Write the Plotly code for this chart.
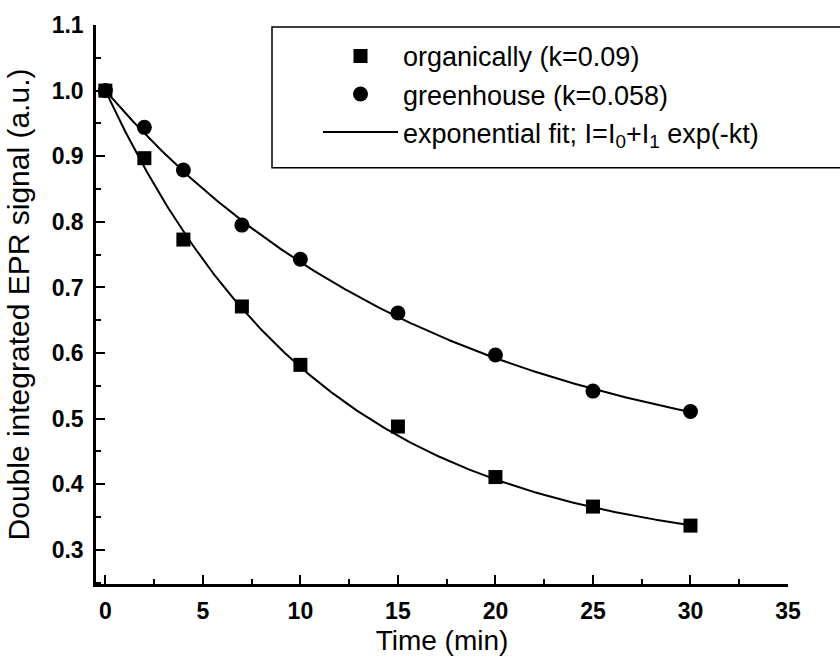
import numpy as np
import plotly.graph_objects as go

# ---- data ----
time_min = [0, 2, 4, 7, 10, 15, 20, 25, 30]
organically = [1.0, 0.897, 0.773, 0.671, 0.582, 0.488, 0.411, 0.366, 0.337]
greenhouse = [1.0, 0.944, 0.879, 0.795, 0.743, 0.661, 0.597, 0.542, 0.511]

# exponential fit parameters I = I0 + I1*exp(-k t)
k_org, I0_org, I1_org = 0.09, 0.290, 0.710
k_gh, I0_gh, I1_gh = 0.058, 0.406, 0.594

x_ticks = [0, 5, 10, 15, 20, 25, 30, 35]
y_ticks = [0.3, 0.4, 0.5, 0.6, 0.7, 0.8, 0.9, 1.0, 1.1]

t_fit = np.linspace(0, 30, 301)
fit_org = I0_org + I1_org * np.exp(-k_org * t_fit)
fit_gh = I0_gh + I1_gh * np.exp(-k_gh * t_fit)

FONT = "Liberation Sans, Arial, sans-serif"

fig = go.Figure()
fig.add_trace(go.Scatter(x=t_fit, y=fit_org, mode="lines",
                         line=dict(color="black", width=2),
                         name="exponential fit; I=I<sub>0</sub>+I<sub>1</sub> exp(-kt)",
                         legendrank=3, showlegend=True))
fig.add_trace(go.Scatter(x=t_fit, y=fit_gh, mode="lines",
                         line=dict(color="black", width=2),
                         showlegend=False))
fig.add_trace(go.Scatter(x=time_min, y=organically, mode="markers",
                         marker=dict(symbol="square", size=14, color="black"),
                         name="organically (k=0.09)", legendrank=1))
fig.add_trace(go.Scatter(x=time_min, y=greenhouse, mode="markers",
                         marker=dict(symbol="circle", size=15, color="black"),
                         name="greenhouse (k=0.058)", legendrank=2))

# plot area pixel geometry
L, R, T, B = 96, 52, 21, 71
W, H = 840, 664
pw, ph = W - L - R, H - T - B

def px_x(p):
    return (p - L) / pw

def px_y(p):
    return (H - B - p) / ph

# legend frame (extends beyond the right edge as in reference)
fig.add_shape(type="rect", xref="paper", yref="paper",
              x0=px_x(272), x1=px_x(860), y0=px_y(167), y1=px_y(23),
              line=dict(color="black", width=1.5), fillcolor="rgba(0,0,0,0)")

fig.update_layout(
    width=W, height=H,
    margin=dict(l=L, r=R, t=T, b=B),
    paper_bgcolor="white", plot_bgcolor="white",
    font=dict(family=FONT, color="black", size=22),
    showlegend=True,
    legend=dict(x=px_x(318), y=px_y(28), xanchor="left", yanchor="top",
                bgcolor="rgba(0,0,0,0)", borderwidth=0,
                font=dict(family=FONT, size=27, color="black"),
                itemwidth=75, traceorder="normal", tracegroupgap=0),
    xaxis=dict(range=[-0.48, 35], tickvals=x_ticks, ticktext=[str(v) for v in x_ticks],
               ticks="inside", ticklen=9, tickwidth=2, tickcolor="black",
               minor=dict(dtick=2.5, tick0=0, ticks="inside", ticklen=5, tickwidth=2, tickcolor="black"),
               showline=True, linecolor="black", linewidth=2.5, mirror=False,
               showgrid=False, zeroline=False,
               tickfont=dict(family=FONT, size=23, color="black", weight="bold"),
               ticklabelstandoff=5,
               title=dict(text="Time (min)", font=dict(family=FONT, size=28, color="black"), standoff=8)),
    yaxis=dict(range=[0.248, 1.1], tickvals=y_ticks, ticktext=[f"{v:.1f}" for v in y_ticks],
               ticks="inside", ticklen=9, tickwidth=2, tickcolor="black",
               minor=dict(dtick=0.05, tick0=0, ticks="inside", ticklen=5, tickwidth=2, tickcolor="black"),
               showline=True, linecolor="black", linewidth=2.5, mirror=False,
               showgrid=False, zeroline=False,
               tickfont=dict(family=FONT, size=23, color="black", weight="bold"),
               ticklabelstandoff=5,
               title=dict(text="Double integrated EPR signal (a.u.)", font=dict(family=FONT, size=30, color="black"), standoff=14)),
)

fig.write_html("out.html")
